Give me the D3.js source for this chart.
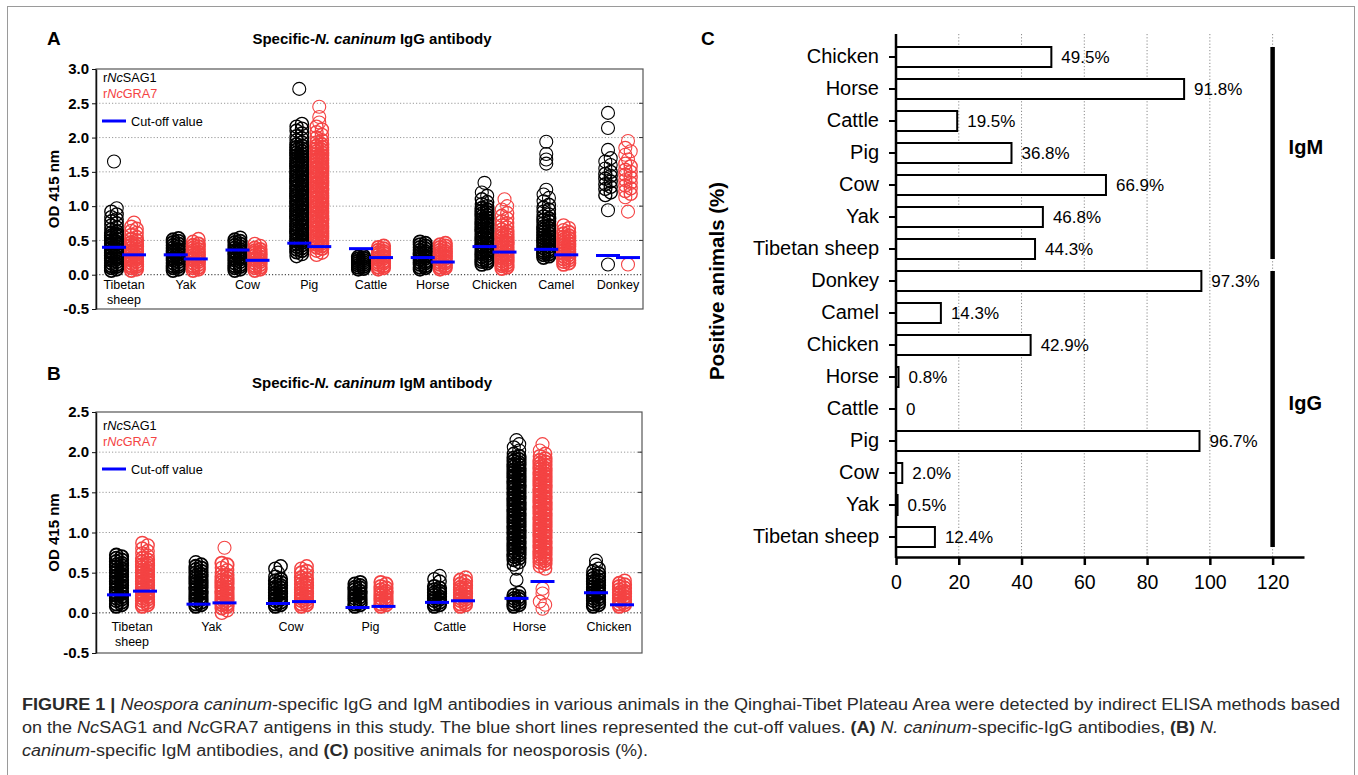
<!DOCTYPE html>
<html><head><meta charset="utf-8">
<script src="https://cdn.jsdelivr.net/npm/d3@7"></script>
<style>body{margin:0;background:#fff}svg{display:block}</style>
</head><body><svg id="fig" width="1358" height="775"></svg>
<script>
// ---------------- DATA ----------------
// Panel A : IgG (OD 415 nm), one array per animal, in category order
const iggCategories = ["Tibetan sheep","Yak","Cow","Pig","Cattle","Horse","Chicken","Camel","Donkey"];
const iggSag1 = [
 [0.06,0.08,0.1,0.12,0.13,0.15,0.17,0.19,0.21,0.23,0.24,0.26,0.28,0.3,0.32,0.34,0.35,0.37,0.39,0.41,0.43,0.45,0.46,0.48,0.5,0.52,0.54,0.56,0.57,0.59,0.61,0.63,0.66,0.69,0.72,0.75,0.78,0.81,0.84,0.88,0.92,0.97,1.65],
 [0.06,0.08,0.1,0.12,0.13,0.15,0.17,0.19,0.21,0.23,0.24,0.26,0.28,0.3,0.32,0.34,0.35,0.37,0.39,0.41,0.43,0.45,0.47,0.49,0.51,0.53],
 [0.06,0.08,0.1,0.12,0.13,0.15,0.17,0.19,0.21,0.23,0.24,0.26,0.28,0.3,0.32,0.34,0.35,0.37,0.39,0.41,0.43,0.45,0.47,0.49,0.51,0.54],
 [0.27,0.3,0.33,0.35,0.37,0.39,0.41,0.43,0.45,0.47,0.49,0.5,0.52,0.54,0.56,0.58,0.6,0.61,0.63,0.65,0.67,0.69,0.71,0.72,0.74,0.76,0.78,0.8,0.82,0.83,0.85,0.87,0.89,0.91,0.93,0.94,0.96,0.98,1.0,1.02,1.04,1.05,1.07,1.09,1.11,1.13,1.15,1.16,1.18,1.2,1.22,1.24,1.26,1.27,1.29,1.31,1.33,1.35,1.37,1.38,1.4,1.42,1.44,1.46,1.48,1.49,1.51,1.53,1.55,1.57,1.59,1.6,1.62,1.64,1.66,1.68,1.7,1.72,1.74,1.76,1.78,1.8,1.82,1.84,1.86,1.88,1.9,1.93,1.96,1.99,2.02,2.06,2.1,2.13,2.16,2.2,2.71],
 [0.08,0.09,0.11,0.12,0.14,0.15,0.17,0.18,0.2,0.21,0.23,0.24,0.26,0.27],
 [0.08,0.1,0.11,0.13,0.15,0.17,0.18,0.2,0.22,0.24,0.25,0.27,0.29,0.31,0.32,0.34,0.36,0.38,0.4,0.42,0.44,0.46,0.48],
 [0.15,0.17,0.19,0.2,0.22,0.24,0.26,0.28,0.3,0.31,0.33,0.35,0.37,0.39,0.41,0.42,0.44,0.46,0.48,0.5,0.52,0.53,0.55,0.57,0.59,0.61,0.63,0.64,0.66,0.68,0.7,0.72,0.74,0.75,0.77,0.79,0.81,0.83,0.85,0.87,0.89,0.91,0.93,0.95,0.97,1.0,1.03,1.06,1.1,1.15,1.2,1.34],
 [0.25,0.27,0.29,0.3,0.32,0.34,0.35,0.37,0.39,0.41,0.43,0.45,0.47,0.49,0.5,0.52,0.54,0.56,0.58,0.6,0.62,0.64,0.66,0.68,0.7,0.72,0.75,0.78,0.8,0.82,0.85,0.88,0.92,0.95,0.98,1.02,1.07,1.12,1.17,1.24,1.62,1.68,1.76,1.94],
 [0.15,0.94,1.16,1.2,1.25,1.28,1.32,1.36,1.4,1.44,1.47,1.5,1.55,1.6,1.65,1.7,1.82,2.14,2.36]
];
const iggGra7 = [
 [0.06,0.08,0.1,0.12,0.13,0.15,0.17,0.19,0.21,0.23,0.24,0.26,0.28,0.3,0.32,0.34,0.35,0.37,0.39,0.41,0.43,0.45,0.47,0.5,0.52,0.55,0.58,0.61,0.64,0.67,0.7,0.76],
 [0.06,0.08,0.1,0.11,0.13,0.15,0.17,0.19,0.21,0.22,0.24,0.26,0.28,0.3,0.32,0.33,0.35,0.37,0.39,0.41,0.43,0.45,0.48,0.52],
 [0.06,0.08,0.1,0.11,0.13,0.15,0.17,0.19,0.21,0.22,0.24,0.26,0.28,0.3,0.32,0.33,0.35,0.37,0.39,0.42,0.45],
 [0.29,0.32,0.35,0.38,0.4,0.42,0.44,0.46,0.47,0.49,0.51,0.53,0.55,0.57,0.58,0.6,0.62,0.64,0.66,0.68,0.69,0.71,0.73,0.75,0.77,0.79,0.8,0.82,0.84,0.86,0.88,0.9,0.91,0.93,0.95,0.97,0.99,1.01,1.02,1.04,1.06,1.08,1.1,1.12,1.13,1.15,1.17,1.19,1.21,1.23,1.24,1.26,1.28,1.3,1.32,1.34,1.35,1.37,1.39,1.41,1.43,1.45,1.46,1.48,1.5,1.52,1.54,1.56,1.57,1.59,1.61,1.63,1.65,1.67,1.68,1.7,1.72,1.74,1.76,1.78,1.8,1.82,1.84,1.86,1.88,1.9,1.93,1.96,2.0,2.04,2.08,2.12,2.16,2.22,2.3,2.45],
 [0.08,0.1,0.11,0.13,0.15,0.17,0.18,0.2,0.22,0.24,0.25,0.27,0.29,0.31,0.32,0.34,0.36,0.38,0.4,0.42],
 [0.08,0.1,0.11,0.13,0.15,0.17,0.18,0.2,0.22,0.24,0.25,0.27,0.29,0.31,0.32,0.34,0.36,0.38,0.4,0.42,0.44,0.46],
 [0.09,0.11,0.13,0.14,0.16,0.18,0.2,0.22,0.24,0.25,0.27,0.29,0.31,0.33,0.35,0.36,0.38,0.4,0.42,0.44,0.46,0.47,0.49,0.51,0.53,0.55,0.57,0.59,0.61,0.63,0.66,0.69,0.72,0.75,0.78,0.82,0.86,0.9,0.95,1.0,1.1],
 [0.15,0.17,0.19,0.21,0.23,0.25,0.27,0.29,0.31,0.33,0.35,0.37,0.39,0.41,0.43,0.45,0.47,0.49,0.51,0.53,0.55,0.57,0.6,0.62,0.65,0.68,0.72],
 [0.15,0.92,1.13,1.18,1.22,1.26,1.3,1.34,1.38,1.42,1.46,1.5,1.53,1.58,1.62,1.68,1.75,1.8,1.85,1.95]
];
const iggCutSag1 = [0.40,0.29,0.36,0.46,0.38,0.25,0.41,0.37,0.28];
const iggCutGra7 = [0.29,0.23,0.21,0.41,0.25,0.185,0.33,0.29,0.25];
const iggTicks = [-0.5,0,0.5,1,1.5,2,2.5,3];

// Panel B : IgM (OD 415 nm)
const igmCategories = ["Tibetan sheep","Yak","Cow","Pig","Cattle","Horse","Chicken"];
const igmSag1 = [
 [0.08,0.1,0.11,0.13,0.15,0.17,0.18,0.2,0.22,0.24,0.25,0.27,0.29,0.31,0.32,0.34,0.36,0.38,0.39,0.41,0.43,0.45,0.46,0.48,0.5,0.52,0.53,0.55,0.57,0.59,0.6,0.62,0.64,0.66,0.68,0.7,0.72],
 [0.08,0.1,0.11,0.13,0.15,0.17,0.18,0.2,0.22,0.24,0.25,0.27,0.29,0.31,0.32,0.34,0.36,0.38,0.39,0.41,0.43,0.45,0.46,0.48,0.5,0.52,0.54,0.56,0.58,0.6,0.63],
 [0.08,0.1,0.11,0.13,0.15,0.17,0.18,0.2,0.22,0.24,0.25,0.27,0.29,0.31,0.32,0.34,0.36,0.38,0.4,0.42,0.45,0.5,0.55,0.58],
 [0.08,0.1,0.11,0.13,0.15,0.17,0.18,0.2,0.22,0.24,0.25,0.27,0.29,0.31,0.32,0.34,0.36,0.38],
 [0.08,0.1,0.11,0.13,0.15,0.17,0.18,0.2,0.22,0.24,0.25,0.27,0.29,0.31,0.33,0.39,0.42,0.46],
 [0.08,0.1,0.11,0.13,0.15,0.17,0.18,0.2,0.22,0.25,0.41,0.55,0.6,0.63,0.66,0.68,0.7,0.72,0.73,0.75,0.77,0.79,0.8,0.82,0.84,0.86,0.87,0.89,0.91,0.93,0.94,0.96,0.98,1.0,1.01,1.03,1.05,1.07,1.08,1.1,1.12,1.14,1.15,1.17,1.19,1.21,1.22,1.24,1.26,1.28,1.29,1.31,1.33,1.35,1.36,1.38,1.4,1.42,1.43,1.45,1.47,1.49,1.5,1.52,1.54,1.56,1.57,1.59,1.61,1.63,1.64,1.66,1.68,1.7,1.71,1.73,1.75,1.77,1.78,1.8,1.82,1.84,1.85,1.87,1.89,1.91,1.93,1.95,1.98,2.02,2.06,2.1,2.15],
 [0.08,0.1,0.11,0.13,0.15,0.17,0.18,0.2,0.22,0.24,0.25,0.27,0.29,0.31,0.32,0.34,0.36,0.38,0.39,0.41,0.43,0.45,0.47,0.49,0.52,0.55,0.6,0.65]
];
const igmGra7 = [
 [0.08,0.1,0.11,0.13,0.15,0.17,0.18,0.2,0.22,0.24,0.25,0.27,0.29,0.31,0.32,0.34,0.36,0.38,0.39,0.41,0.43,0.45,0.46,0.48,0.5,0.52,0.53,0.55,0.57,0.59,0.6,0.62,0.64,0.66,0.68,0.71,0.74,0.77,0.8,0.84,0.87],
 [0.0,0.03,0.06,0.08,0.1,0.11,0.13,0.15,0.17,0.18,0.2,0.22,0.24,0.25,0.27,0.29,0.31,0.32,0.34,0.36,0.38,0.39,0.41,0.43,0.45,0.47,0.5,0.53,0.56,0.6,0.62,0.81],
 [0.08,0.1,0.11,0.13,0.15,0.17,0.18,0.2,0.22,0.24,0.25,0.27,0.29,0.31,0.32,0.34,0.36,0.38,0.4,0.42,0.44,0.47,0.5,0.52,0.55,0.58],
 [0.08,0.1,0.11,0.13,0.15,0.17,0.18,0.2,0.22,0.24,0.25,0.27,0.29,0.31,0.33,0.36,0.38],
 [0.08,0.1,0.11,0.13,0.15,0.17,0.18,0.2,0.22,0.24,0.25,0.27,0.29,0.31,0.32,0.34,0.36,0.39,0.41,0.44],
 [0.05,0.1,0.14,0.24,0.3,0.55,0.58,0.61,0.63,0.65,0.67,0.68,0.7,0.72,0.74,0.75,0.77,0.79,0.81,0.82,0.84,0.86,0.88,0.89,0.91,0.93,0.95,0.96,0.98,1.0,1.02,1.03,1.05,1.07,1.09,1.1,1.12,1.14,1.16,1.17,1.19,1.21,1.23,1.24,1.26,1.28,1.3,1.31,1.33,1.35,1.37,1.38,1.4,1.42,1.44,1.45,1.47,1.49,1.51,1.52,1.54,1.56,1.58,1.59,1.61,1.63,1.65,1.66,1.68,1.7,1.72,1.73,1.75,1.77,1.79,1.8,1.82,1.84,1.86,1.88,1.9,1.92,1.95,1.98,2.02,2.1],
 [0.08,0.1,0.11,0.13,0.15,0.17,0.18,0.2,0.22,0.24,0.25,0.27,0.29,0.31,0.33,0.35,0.37,0.4]
];
const igmCutSag1 = [0.224,0.108,0.116,0.066,0.13,0.18,0.25];
const igmCutGra7 = [0.27,0.124,0.14,0.08,0.15,0.39,0.10];
const igmTicks = [-0.5,0,0.5,1,1.5,2,2.5];

// Panel C : positive animals (%)
const posAnimals = ["Chicken","Horse","Cattle","Pig","Cow","Yak","Tibetan sheep","Donkey","Camel","Chicken","Horse","Cattle","Pig","Cow","Yak","Tibetan sheep"];
const posValues  = [49.5,91.8,19.5,36.8,66.9,46.8,44.3,97.3,14.3,42.9,0.8,0,96.7,2.0,0.5,12.4];
const posLabels  = ["49.5%","91.8%","19.5%","36.8%","66.9%","46.8%","44.3%","97.3%","14.3%","42.9%","0.8%","0","96.7%","2.0%","0.5%","12.4%"];
const posGroupNames = ["IgM","IgG"];
const posGroupFrom  = [0,7];
const posGroupTo    = [6,15];
const posTicks = [0,20,40,60,80,100,120];

// ---------------- DRAWING ----------------
const FONT = '"Liberation Sans", Arial, Helvetica, sans-serif';
const RED = "#f44343", BLUE = "#0000ff";
const svg = d3.select("#fig").attr("font-family", FONT);

svg.append("rect").attr("x",7.5).attr("y",6.5).attr("width",1347).attr("height",820)
   .attr("fill","none").attr("stroke","#9a9a9a").attr("stroke-width",1);

// column layout: dense points alternate in two lanes, isolated points stay centred
function columnLayout(vals, y){
  const pts = vals.map(v=>({v, y:y(v)})).sort((a,b)=>b.y-a.y);
  pts.forEach((p,i)=>{
    const prev = i>0 ? Math.abs(pts[i-1].y-p.y) : Infinity;
    const next = i<pts.length-1 ? Math.abs(pts[i+1].y-p.y) : Infinity;
    const gap = Math.min(prev,next);
    p.dx = gap < 4 ? (i%2 ? 2.7 : -2.7) : 0;
    p.sw = gap < 1.8 ? 1.8 : (gap < 3 ? 1.4 : 1.1);
  });
  return pts;
}

function richText(sel, parts){
  parts.forEach(([s,st])=>{
    const t = sel.append("tspan").text(s);
    if(st.includes("b")) t.attr("font-weight","bold");
    if(st.includes("i")) t.attr("font-style","italic");
    if(st.includes("r")) t.attr("fill",RED);
  });
}

function scatterPanel(o){
  const top = o.ticks[o.ticks.length-1];
  const y = d3.scaleLinear().domain([-0.5, top]).range([o.yBot, o.yTop]);
  const x = d3.scalePoint().domain(o.cats).range([o.cx0, o.cx1]);
  const g = svg.append("g");
  g.selectAll("line.grid").data(o.ticks.filter(t=>t>=0 && t<top)).join("line")
    .attr("x1",o.xLeft).attr("x2",o.xRight).attr("y1",d=>y(d)).attr("y2",d=>y(d))
    .attr("stroke",d=>d===0?"#222":"#999").attr("stroke-width",1).attr("stroke-dasharray","1.2,2");
  [[o.sag,"#000",-o.off],[o.gra,RED,o.off]].forEach(([series,color,off])=>{
    series.forEach((vals,i)=>{
      const pts = columnLayout(vals,y);
      g.append("g").selectAll("circle").data(pts).join("circle")
        .attr("cx",d=>x(o.cats[i])+off+d.dx).attr("cy",d=>d.y).attr("r",6.5)
        .attr("fill","none").attr("stroke",color).attr("stroke-width",d=>d.sw);
    });
  });
  [[o.cutS,-o.off],[o.cutG,o.off]].forEach(([cuts,off])=>{
    g.append("g").selectAll("line").data(cuts).join("line")
      .attr("x1",(d,i)=>x(o.cats[i])+off-12).attr("x2",(d,i)=>x(o.cats[i])+off+12)
      .attr("y1",d=>y(d)).attr("y2",d=>y(d)).attr("stroke",BLUE).attr("stroke-width",3);
  });
  g.append("rect").attr("x",o.xLeft).attr("y",o.yTop).attr("width",o.xRight-o.xLeft).attr("height",o.yBot-o.yTop)
    .attr("fill","none").attr("stroke","#555").attr("stroke-width",1.2);
  g.selectAll("line.rt").data(o.ticks.filter(t=>t>0 && t<top)).join("line")
    .attr("x1",o.xRight-4).attr("x2",o.xRight).attr("y1",d=>y(d)).attr("y2",d=>y(d)).attr("stroke","#333");
  const ax = g.append("g").attr("transform",`translate(${o.xLeft},0)`)
    .call(d3.axisLeft(y).tickValues(o.ticks).tickFormat(d=>d.toFixed(1)).tickSize(4).tickSizeOuter(0).tickPadding(3));
  ax.attr("font-family",FONT).attr("font-size",15).attr("font-weight","bold");
  ax.select(".domain").attr("stroke","#111").attr("stroke-width",1.5);
  ax.selectAll(".tick line").attr("stroke","#111");
  ax.selectAll("text").attr("fill","#000");
  g.append("text").attr("transform",`translate(${o.yLabelX},${(o.yTop+o.yBot)/2}) rotate(-90)`)
    .attr("text-anchor","middle").attr("font-size",15).attr("font-weight","bold").text("OD 415 nm");
  o.cats.forEach(c=>{
    const t = g.append("text").attr("x",x(c)).attr("y",o.catY).attr("text-anchor","middle").attr("font-size",12.5);
    c.split(" ").forEach((w,k)=>t.append("tspan").attr("x",x(c)).attr("dy",k?15:0).text(w));
  });
  richText(g.append("text").attr("x",372).attr("y",o.titleY).attr("text-anchor","middle").attr("font-size",15),
    [["Specific-","b"],["N. caninum","bi"],[" "+o.titleEnd,"b"]]);
  g.append("text").attr("x",47).attr("y",o.letterY).attr("font-size",19).attr("font-weight","bold").text(o.letter);
  const lx = 103;
  richText(g.append("text").attr("x",lx).attr("y",o.legY).attr("font-size",12.7),[["r",""],["Nc","i"],["SAG1",""]]);
  richText(g.append("text").attr("x",lx).attr("y",o.legY+16).attr("font-size",12.7).attr("fill",RED),[["r","r"],["Nc","ir"],["GRA7","r"]]);
  g.append("line").attr("x1",lx-1).attr("x2",lx+23).attr("y1",o.legY+39).attr("y2",o.legY+39).attr("stroke",BLUE).attr("stroke-width",3);
  g.append("text").attr("x",lx+28).attr("y",o.legY+43.5).attr("font-size",12.7).text("Cut-off value");
}

scatterPanel({cats:iggCategories, sag:iggSag1, gra:iggGra7, cutS:iggCutSag1, cutG:iggCutGra7, ticks:iggTicks,
  yTop:69, yBot:309, xLeft:96, xRight:643, cx0:124, cx1:618, off:10, yLabelX:59, catY:289,
  titleY:44, titleEnd:"IgG antibody", letter:"A", letterY:45, legY:82});
scatterPanel({cats:igmCategories, sag:igmSag1, gra:igmGra7, cutS:igmCutSag1, cutG:igmCutGra7, ticks:igmTicks,
  yTop:412, yBot:653, xLeft:96, xRight:642, cx0:132, cx1:609, off:13, yLabelX:59, catY:631,
  titleY:388, titleEnd:"IgM antibody", letter:"B", letterY:380, legY:430});

// ---------- Panel C ----------
(function(){
  const x = d3.scaleLinear().domain([0,130]).range([896,1304]);
  const y = d3.scaleBand().domain(d3.range(posValues.length)).range([41,553]).paddingInner(0.375).paddingOuter(0.1875);
  const g = svg.append("g");
  g.selectAll("line.grid").data(posTicks.filter(t=>t>0)).join("line")
    .attr("x1",d=>x(d)).attr("x2",d=>x(d)).attr("y1",34).attr("y2",557)
    .attr("stroke","#8a8a8a").attr("stroke-width",1).attr("stroke-dasharray","1.2,2");
  g.selectAll("rect.bar").data(posValues).join("rect")
    .attr("x",x(0)).attr("y",(d,i)=>y(i)).attr("width",d=>x(d)-x(0)).attr("height",y.bandwidth())
    .attr("fill","#fff").attr("stroke","#000").attr("stroke-width",2);
  g.selectAll("text.val").data(posValues).join("text")
    .attr("x",d=>x(d)+10).attr("y",(d,i)=>y(i)+y.bandwidth()/2+6).attr("font-size",17).text((d,i)=>posLabels[i]);
  const ay = g.append("g").attr("transform","translate(896,0)")
    .call(d3.axisLeft(y).tickFormat(i=>posAnimals[i]).tickSize(7).tickSizeOuter(0).tickPadding(10));
  ay.attr("font-family",FONT).attr("font-size",20);
  ay.select(".domain").remove();
  ay.selectAll(".tick line").attr("stroke","#000").attr("stroke-width",2);
  ay.selectAll("text").attr("fill","#000");
  g.append("line").attr("x1",896).attr("x2",896).attr("y1",34).attr("y2",558).attr("stroke","#000").attr("stroke-width",2.5);
  const axx = g.append("g").attr("transform","translate(0,557)")
    .call(d3.axisBottom(x).tickValues(posTicks).tickFormat(d3.format("d")).tickSize(8).tickSizeOuter(0).tickPadding(10));
  axx.attr("font-family",FONT).attr("font-size",19.5);
  axx.select(".domain").attr("stroke","#000").attr("stroke-width",2.5);
  axx.selectAll(".tick line").attr("stroke","#000").attr("stroke-width",2.5);
  axx.selectAll("text").attr("fill","#000");
  posGroupNames.forEach((nm,k)=>{
    const t0 = y(posGroupFrom[k]), b0 = y(posGroupTo[k])+y.bandwidth();
    g.append("line").attr("x1",x(120)).attr("x2",x(120)).attr("y1",t0).attr("y2",b0).attr("stroke","#000").attr("stroke-width",4.5);
    g.append("text").attr("x",x(120)+16).attr("y",(t0+b0)/2+1).attr("font-size",20).attr("font-weight","bold").text(nm);
  });
  g.append("text").attr("transform","translate(724,281) rotate(-90)").attr("text-anchor","middle")
    .attr("font-size",20.5).attr("font-weight","bold").text("Positive animals (%)");
  g.append("text").attr("x",701).attr("y",45).attr("font-size",19).attr("font-weight","bold").text("C");
})();

// ---------- Caption ----------
const CAPFONT = '"Liberation Sans Narrow", "Liberation Sans", Arial, sans-serif';
const captionLines = [
  [710,1318,[["FIGURE 1 | ","b"],["Neospora caninum","i"],["-specific IgG and IgM antibodies in various animals in the Qinghai-Tibet Plateau Area were detected by indirect ELISA methods based",""]]],
  [733,1196,[["on the ",""],["Nc","i"],["SAG1 and ",""],["Nc","i"],["GRA7 antigens in this study. The blue short lines represented the cut-off values. ",""],["(A)","b"],[" ",""],["N. caninum","i"],["-specific-IgG antibodies, ",""],["(B)","b"],[" ",""],["N.","i"]]],
  [756,626,[["caninum","i"],["-specific IgM antibodies, and ",""],["(C)","b"],[" positive animals for neosporosis (%).",""]]]
];
captionLines.forEach(([yy,len,parts])=>{
  const t = svg.append("text").attr("x",22).attr("y",yy).attr("font-family",CAPFONT).attr("font-size",16)
    .attr("fill","#2a2a2a").attr("textLength",len).attr("lengthAdjust","spacingAndGlyphs").style("white-space","pre");
  richText(t,parts);
});
</script></body></html>
